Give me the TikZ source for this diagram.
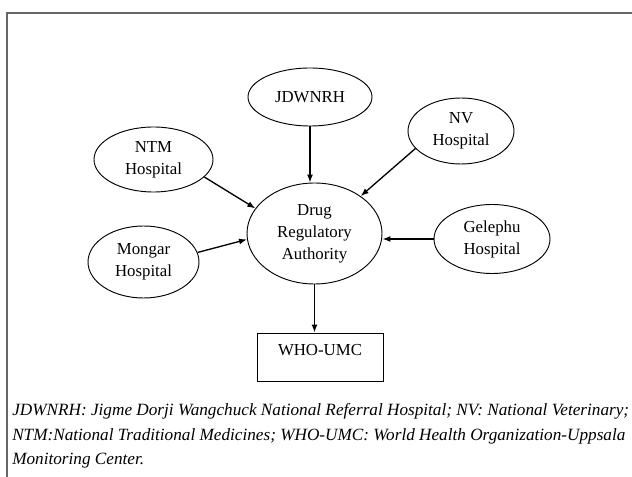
\documentclass[tikz,border=0pt]{standalone}
\usepackage{fontspec}
\setmainfont{Liberation Serif}
\usetikzlibrary{shapes.geometric,arrows.meta}

\tikzset{
	oval/.style={draw,ellipse,line width=0.7pt,inner sep=0pt,align=center,
		font=\fontsize{12.6}{16.5}\selectfont},
	flow/.style={-{Latex[length=6pt,width=4.5pt]},line width=1pt},
	note/.style={anchor=base west,inner sep=0pt,font=\fontsize{12.9}{14}\selectfont\itshape}
}

\begin{document}
\begin{tikzpicture}[x=0.75pt,y=-0.75pt]
	% page and frame
	\useasboundingbox (0,0) rectangle (632,477);
	\draw[line width=1pt,black!60] (632,13) -- (7,13) -- (7,477);

	% reporting centres
	\node[oval,minimum width=93pt,minimum height=43.5pt] (jdwnrh) at (310,97) {JDWNRH};
	\node[oval,minimum width=79.5pt,minimum height=49.5pt] (nv) at (461,131) {NV\\Hospital};
	\node[oval,minimum width=89.25pt,minimum height=48.75pt] (ntm) at (153.5,159.5) {NTM\\Hospital};
	\node[oval,minimum width=83.25pt,minimum height=54pt] (mongar) at (143.5,262) {Mongar\\Hospital};
	\node[oval,minimum width=87pt,minimum height=51.75pt] (gelephu) at (492,239) {Gelephu\\Hospital};

	% national centre and WHO
	\node[oval,minimum width=101.25pt,minimum height=75.75pt] (dra) at (314.5,233.5) {Drug\\Regulatory\\Authority};
	\node[draw,line width=0.7pt,inner sep=0pt,minimum width=94.5pt,text height=16.5pt,text depth=19.5pt,
		font=\fontsize{12.6}{14}\selectfont] (who) at (320,357) {WHO-UMC};

	% reports
	\draw[flow] (jdwnrh.south) -- (jdwnrh.south |- dra.north);
	\draw[flow] (ntm.-19) -- (dra.157);
	\draw[flow] (mongar.10) -- (dra.185);
	\draw[flow] (nv.201) -- (dra.39);
	\draw[flow] (gelephu.west) -- (dra.east |- gelephu.west);
	\draw[flow] (dra.south) -- (dra.south |- who.north);

	% abbreviations
	\node[note] (line1) at (12,415) {JDWNRH: Jigme Dorji Wangchuck National Referral Hospital; NV: National Veterinary;};
	\node[note] (line2) at (12,440) {NTM:National Traditional Medicines; WHO-UMC: World Health Organization-Uppsala};
	\node[note] (line3) at (12,464) {Monitoring Center.};
\end{tikzpicture}
\end{document}
